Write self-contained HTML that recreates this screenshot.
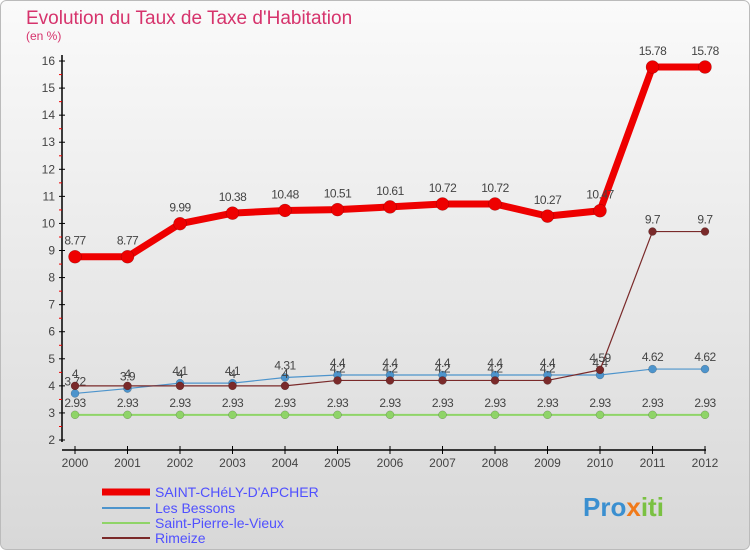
<!DOCTYPE html>
<html><head><meta charset="utf-8"><style>
body{margin:0;width:750px;height:550px;overflow:hidden;font-family:"Liberation Sans",sans-serif}
svg{display:block}
</style></head><body>
<svg id="chart" width="750" height="550">
<defs><linearGradient id="bg" x1="0" y1="0" x2="0" y2="1"><stop offset="0" stop-color="#fafafa"/><stop offset="1" stop-color="#d8d8d8"/></linearGradient></defs>
<rect x="0.5" y="0.5" width="749" height="549" rx="6" fill="url(#bg)" stroke="#bbb"/>
<text x="26" y="24" font-size="19" fill="#d6336c">Evolution du Taux de Taxe d'Habitation</text>
<text x="26" y="40" font-size="12" fill="#d6336c">(en %)</text>
<g id="axes"></g><g id="series"></g>
<g>
<line x1="102" y1="492" x2="150" y2="492" stroke="#e00" stroke-width="7"/>
<text x="155" y="497" font-size="14" fill="#5050ff">SAINT-CHéLY-D'APCHER</text>
<line x1="102" y1="508" x2="150" y2="508" stroke="#4d94cc" stroke-width="2"/>
<text x="155" y="513" font-size="14" fill="#5050ff">Les Bessons</text>
<line x1="102" y1="523" x2="150" y2="523" stroke="#8fd468" stroke-width="2"/>
<text x="155" y="528" font-size="14" fill="#5050ff">Saint-Pierre-le-Vieux</text>
<line x1="102" y1="538" x2="150" y2="538" stroke="#7a2a2a" stroke-width="2"/>
<text x="155" y="543" font-size="14" fill="#5050ff">Rimeize</text>
</g>
<text x="583" y="516" font-size="26" font-weight="bold" fill="#3a8fd0">Pro<tspan fill="#f07a1a">x</tspan><tspan fill="#7ac142">iti</tspan></text>
</svg>
<script>
const years=[2000,2001,2002,2003,2004,2005,2006,2007,2008,2009,2010,2011,2012];
const yTicks=[2,3,4,5,6,7,8,9,10,11,12,13,14,15,16];
const stChely=[8.77,8.77,9.99,10.38,10.48,10.51,10.61,10.72,10.72,10.27,10.47,15.78,15.78];
const lesBessons=[3.72,3.9,4.1,4.1,4.31,4.4,4.4,4.4,4.4,4.4,4.4,4.62,4.62];
const stPierre=[2.93,2.93,2.93,2.93,2.93,2.93,2.93,2.93,2.93,2.93,2.93,2.93,2.93];
const rimeize=[4,4,4,4,4,4.2,4.2,4.2,4.2,4.2,4.59,9.7,9.7];
const NS='http://www.w3.org/2000/svg';
const xS=i=>75+i*52.5, yS=v=>440-(v-2)*27.07;
function mk(t,a,p){const e=document.createElementNS(NS,t);for(const k in a)e.setAttribute(k,a[k]);p.appendChild(e);return e;}
const ax=document.getElementById('axes'), sg=document.getElementById('series');
let l=mk('line',{x1:62,y1:55,x2:62,y2:442,stroke:'#000','stroke-width':1.5},ax);


l=mk('line',{x1:62,y1:450,x2:706,y2:450,stroke:'#000','stroke-width':1.5},ax);


yTicks.forEach(v=>{const y=yS(v);
 mk('line',{x1:59,y1:y,x2:65,y2:y,stroke:'#000'},ax);
 if(v<16)mk('line',{x1:59,y1:y-13.5,x2:62,y2:y-13.5,stroke:'#e00'},ax);
 const t=mk('text',{x:55,y:y+4,'font-size':12,'text-anchor':'end',fill:'#444'},ax);t.textContent=v;
 
 });
years.forEach((yr,i)=>{const x=xS(i);
 mk('line',{x1:x,y1:446,x2:x,y2:454,stroke:'#000'},ax);
 const t=mk('text',{x:x,y:467,'font-size':12,'text-anchor':'middle',fill:'#444'},ax);t.textContent=yr;
 
 });
function series(data,color,lw,r,name,labOff){
 const pts=data.map((v,i)=>xS(i)+','+yS(v)).join(' ');
 const pl=mk('polyline',{points:pts,fill:'none',stroke:color,'stroke-width':lw,'stroke-linejoin':'round'},sg);
 
 
 data.forEach((v,i)=>{
  const c=mk('circle',{cx:xS(i),cy:yS(v),r:r,fill:color,stroke:'rgba(0,0,0,0.3)','stroke-width':0.5},sg);
  
  
  const t=mk('text',{x:xS(i),y:yS(v)-labOff,'font-size':12,'text-anchor':'middle',fill:'#444','letter-spacing':'-0.5'},sg);
  t.textContent=String(v);
  
  });
}
series(stPierre,'#8fd468',2,4,'saint-pierre',8);
series(lesBessons,'#4d94cc',1.2,4,'les-bessons',8);
series(rimeize,'#7a2a2a',1.2,4,'rimeize',8);
series(stChely,'#e00',7,6.5,'saint-chely',12);
</script>
</body></html>
